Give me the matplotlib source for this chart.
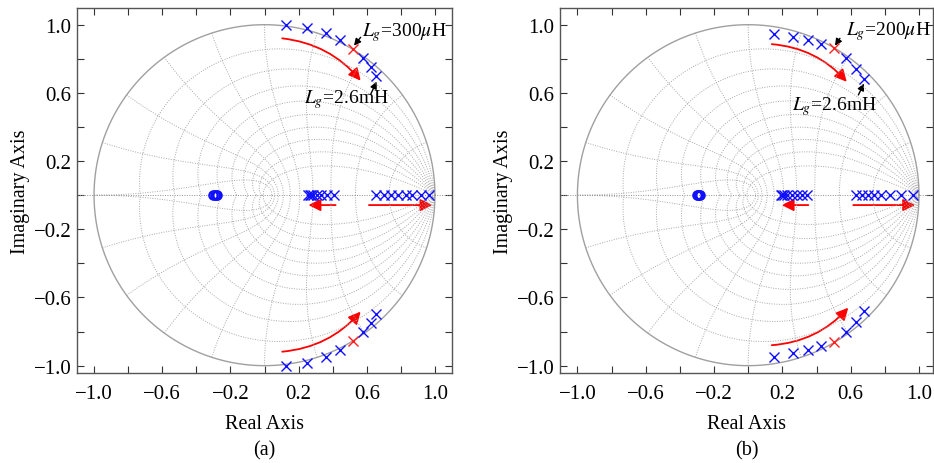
import numpy as np
import matplotlib.pyplot as plt
from matplotlib.patches import FancyArrowPatch

plt.rcParams['font.family'] = 'Liberation Serif'
plt.rcParams['mathtext.fontset'] = 'stix'

# (a) Lg from 300uH to 2.6mH
arc_re_a = [0.124, 0.247, 0.359, 0.443, 0.521, 0.577, 0.623, 0.652]
arc_im_a = [1.000, 0.982, 0.951, 0.910, 0.857, 0.803, 0.750, 0.697]
mid_re_a = [0.255, 0.265, 0.275, 0.287, 0.306, 0.333, 0.368, 0.407]
right_re_a = [0.652, 0.701, 0.744, 0.783, 0.828, 0.867, 0.916, 0.965]
zero_re_a = [-0.300, -0.293, -0.286, -0.279]

# (b) Lg from 200uH to 2.6mH
arc_re_b = [0.150, 0.262, 0.352, 0.428, 0.504, 0.571, 0.631, 0.678]
arc_im_b = [0.948, 0.928, 0.909, 0.887, 0.861, 0.804, 0.741, 0.681]
mid_re_b = [0.190, 0.200, 0.210, 0.229, 0.255, 0.284, 0.313, 0.346]
right_re_b = [0.631, 0.666, 0.701, 0.738, 0.775, 0.830, 0.892, 0.967]
zero_re_b = [-0.302, -0.295, -0.288, -0.281]

red_idx = 4  # the highlighted pole on each arc

ticks = [-1.0, -0.8, -0.6, -0.4, -0.2, 0.0, 0.2, 0.4, 0.6, 0.8, 1.0]
tick_labels = ['\u22121.0', '', '\u22120.6', '', '\u22120.2', '', '0.2', '', '0.6', '', '1.0']


def zgrid(ax):
    c = '#a8a8a8'
    ls = (0, (1, 1.5))
    for zeta in np.arange(0.1, 0.95, 0.1):
        th = np.linspace(0, np.pi, 300)
        z = np.exp(-zeta / np.sqrt(1 - zeta ** 2) * th + 1j * th)
        ax.plot(z.real, z.imag, color=c, ls=ls, lw=0.7)
        ax.plot(z.real, -z.imag, color=c, ls=ls, lw=0.7)
    for k in range(1, 11):
        wn = k * np.pi / 10
        zeta = np.linspace(0, 1, 200)
        z = np.exp(-zeta * wn + 1j * wn * np.sqrt(1 - zeta ** 2))
        ax.plot(z.real, z.imag, color=c, ls=ls, lw=0.7)
        ax.plot(z.real, -z.imag, color=c, ls=ls, lw=0.7)
    t = np.linspace(0, 2 * np.pi, 400)
    ax.plot(np.cos(t), np.sin(t), color='#a0a0a0', lw=1.0)
    ax.axhline(0, color='#909090', ls=ls, lw=0.7)


def arrow(ax, p0, p1, color, rad=0.0, ms=18, lw=1.3):
    ax.add_patch(FancyArrowPatch(p0, p1, arrowstyle='-|>', mutation_scale=ms,
                                 connectionstyle='arc3,rad=%g' % rad,
                                 color=color, lw=lw, shrinkA=0, shrinkB=0))


def panel(ax, arc_re, arc_im, mid_re, right_re, zero_re, xlim, lg_top,
          top_txt, top_arr, bot_txt, bot_arr, red_arcs, mid_arr, right_arr, cap):
    zgrid(ax)
    re = np.array(arc_re)
    im = np.array(arc_im)
    blue = [i for i in range(len(re)) if i != red_idx]
    kw = dict(ls='none', marker='x', ms=7, mew=1.0)
    ax.plot(re[blue], im[blue], color='#1010ff', **kw)
    ax.plot(re[blue], -im[blue], color='#1010ff', **kw)
    ax.plot(re[red_idx], im[red_idx], color='#ff2020', **kw)
    ax.plot(re[red_idx], -im[red_idx], color='#ff2020', **kw)
    ax.plot(mid_re, np.zeros(len(mid_re)), color='#1010ff', **kw)
    ax.plot(right_re, np.zeros(len(right_re)), color='#1010ff', **kw)
    ax.plot(zero_re, np.zeros(len(zero_re)), ls='none', marker='o', ms=6,
            mfc='none', mec='#1010ff', mew=1.6)

    # red trajectory arrows
    (u0, u1), (l0, l1) = red_arcs
    arrow(ax, u0, u1, 'red', rad=-0.2)
    arrow(ax, l0, l1, 'red', rad=0.2)
    arrow(ax, mid_arr[0], mid_arr[1], 'red')
    arrow(ax, right_arr[0], right_arr[1], 'red')

    # labels
    ax.text(top_txt[0], top_txt[1], r'$L_g$=%s$\mu$H' % lg_top, fontsize=14,
            ha='left', va='center')
    ax.text(bot_txt[0], bot_txt[1], r'$L_g$=2.6mH', fontsize=14,
            ha='left', va='center')
    arrow(ax, top_arr[0], top_arr[1], 'black', ms=10, lw=1.0)
    arrow(ax, bot_arr[0], bot_arr[1], 'black', ms=10, lw=1.0)

    ax.set_xlim(*xlim)
    ax.set_ylim(-1.043, 1.098)
    ax.set_xticks(ticks)
    ax.set_xticklabels(tick_labels)
    ax.set_yticks(ticks)
    ax.set_yticklabels(tick_labels)
    ax.tick_params(direction='in', top=True, right=True, length=5, width=0.8,
                   labelsize=15, colors='#333333', labelcolor='black')
    ax.tick_params(axis='x', pad=8)
    ax.tick_params(axis='y', pad=4)
    for s in ax.spines.values():
        s.set_color('#555555')
        s.set_linewidth(1.0)
    ax.set_xlabel('Real Axis', fontsize=14.5, labelpad=8)
    ax.set_ylabel('Imaginary Axis', fontsize=14.5, labelpad=3)
    ax.text(0.5, -0.21, cap, transform=ax.transAxes, ha='center', va='center',
            fontsize=14.5)


fig = plt.figure(figsize=(9.34, 4.64), dpi=100)
ax_a = fig.add_axes([77 / 934, 90 / 464, 375 / 934, 365 / 464])
ax_b = fig.add_axes([560 / 934, 90 / 464, 373 / 934, 365 / 464])

panel(ax_a, arc_re_a, arc_im_a, mid_re_a, right_re_a, zero_re_a, (-1.1, 1.1), '300',
      (0.574, 0.957), ((0.564, 0.926), (0.525, 0.877)),
      (0.231, 0.564), ((0.623, 0.592), (0.658, 0.666)),
      (((0.104, 0.920), (0.564, 0.672)), ((0.104, -0.918), (0.564, -0.683))),
      ((0.417, -0.058), (0.258, -0.058)), ((0.613, -0.058), (0.985, -0.058)), '(a)')

panel(ax_b, arc_re_b, arc_im_b, mid_re_b, right_re_b, zero_re_b, (-1.102, 1.082), '200',
      (0.572, 0.965), ((0.537, 0.920), (0.508, 0.877)),
      (0.255, 0.525), ((0.645, 0.588), (0.678, 0.655)),
      (((0.138, 0.886), (0.577, 0.665)), ((0.138, -0.880), (0.586, -0.660))),
      ((0.352, -0.058), (0.196, -0.058)), ((0.615, -0.058), (0.977, -0.058)), '(b)')

fig.savefig('out.png', dpi=100)
